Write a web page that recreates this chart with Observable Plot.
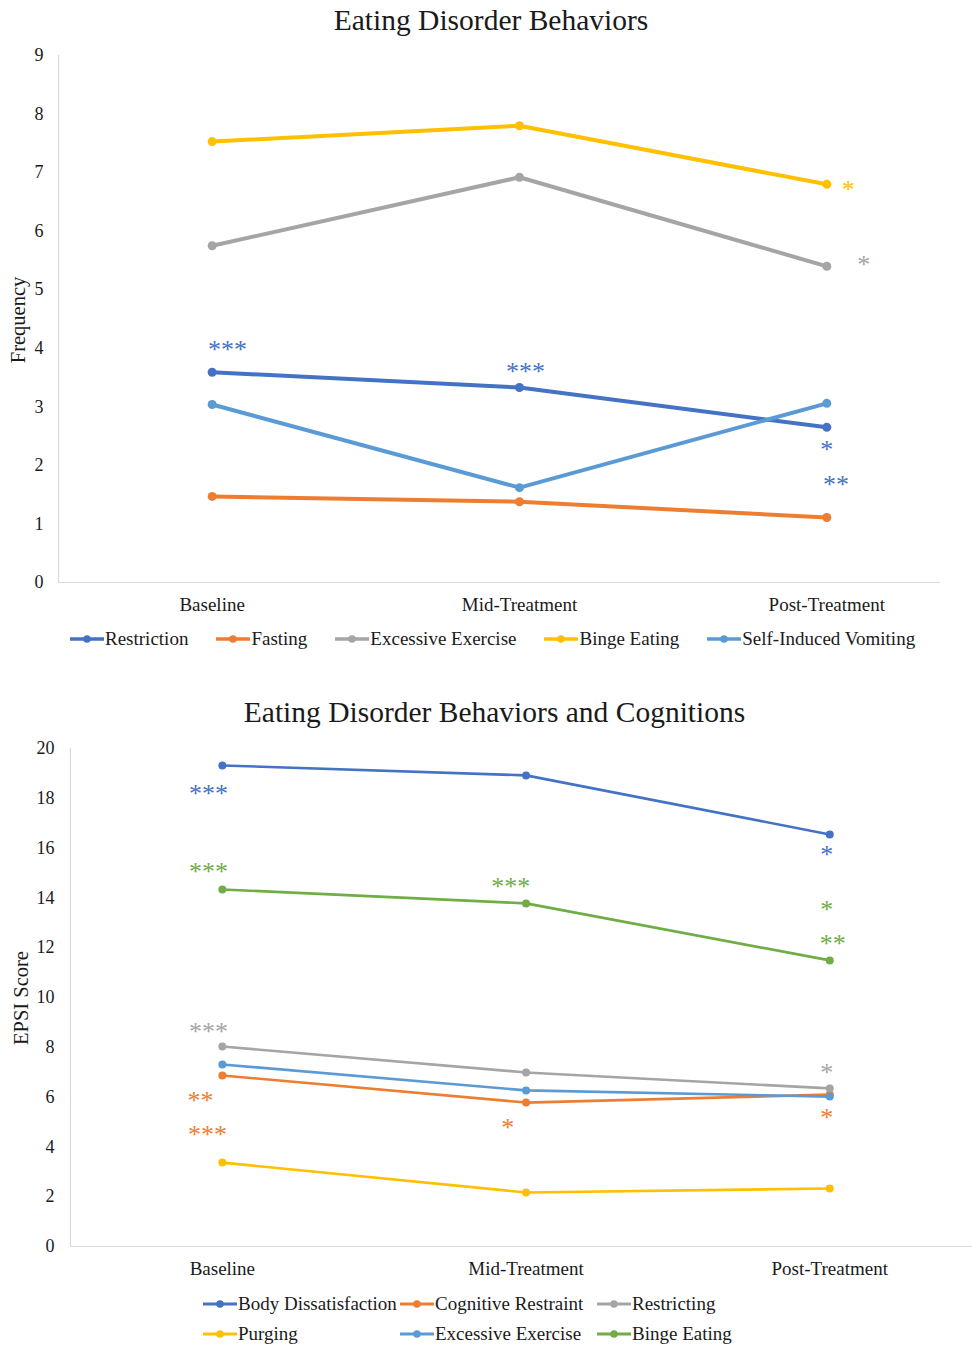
<!DOCTYPE html>
<html><head><meta charset="utf-8">
<script src="https://cdn.jsdelivr.net/npm/d3@7"></script>
<script src="https://cdn.jsdelivr.net/npm/@observablehq/plot@0.6"></script>
<style>
body{margin:0;background:#fff;font-family:"Liberation Serif","Times New Roman",serif;color:#1a1a1a;}
#page{position:relative;width:972px;height:1346px;overflow:hidden;}
.title{position:absolute;text-align:center;font-size:29.5px;line-height:40px;white-space:nowrap;}
.chart{position:absolute;left:0;}
.ylab{position:absolute;width:200px;height:24px;line-height:24px;text-align:center;font-size:20.5px;transform:translate(-50%,-50%) rotate(-90deg);white-space:nowrap;}
.legend{position:absolute;font-size:19px;line-height:20px;}
.row{display:flex;align-items:center;}
.item{display:flex;align-items:center;white-space:nowrap;}
.item svg{margin-right:1px;display:block;}
</style></head>
<body><div id="page">
<div class="title" style="left:0;width:982px;top:0;">Eating Disorder Behaviors</div>
<div class="chart" id="c1" style="top:40px;"></div>
<div class="ylab" style="left:18px;top:320px;">Frequency</div>
<div class="legend" id="l1" style="left:70px;top:629px;"></div>
<div class="title" style="left:0;width:989px;top:692px;">Eating Disorder Behaviors and Cognitions</div>
<div class="chart" id="c2" style="top:730px;"></div>
<div class="ylab" style="left:21px;top:998px;">EPSI Score</div>
<div class="legend" id="l2" style="left:203px;top:1294px;"></div>
</div>
<script>
// ---------- shared ----------
const stages = ["Baseline", "Mid-Treatment", "Post-Treatment"];

// ---------- chart 1: Eating Disorder Behaviors (Frequency) ----------
const series1 = ["Restriction", "Fasting", "Excessive Exercise", "Binge Eating", "Self-Induced Vomiting"];
const colors1 = ["#4472C4", "#ED7D31", "#A5A5A5", "#FFC000", "#5B9BD5"];
const restriction1 = [3.59, 3.33, 2.65];
const fasting1 = [1.47, 1.38, 1.11];
const exercise1 = [5.75, 6.92, 5.40];
const binge1 = [7.53, 7.80, 6.80];
const vomiting1 = [3.04, 1.62, 3.06];
const values1 = [restriction1, fasting1, exercise1, binge1, vomiting1];
const yTicks1 = [0, 1, 2, 3, 4, 5, 6, 7, 8, 9];
// significance markers: series, position along stage axis, value
const sigSeries1 = ["Restriction", "Restriction", "Binge Eating", "Excessive Exercise", "Restriction", "Restriction"];
const sigPos1 = [0.05, 1.02, 2.07, 2.12, 2.0, 2.03];
const sigVal1 = [4.05, 3.67, 6.78, 5.50, 2.34, 1.74];
const sigText1 = ["***", "***", "*", "*", "*", "**"];

// ---------- chart 2: EPSI Score ----------
const series2 = ["Body Dissatisfaction", "Cognitive Restraint", "Restricting", "Purging", "Excessive Exercise", "Binge Eating"];
const colors2 = ["#4472C4", "#ED7D31", "#A5A5A5", "#FFC000", "#5B9BD5", "#70AD47"];
const bodyDis2 = [19.32, 18.92, 16.55];
const cogRes2 = [6.87, 5.78, 6.10];
const restricting2 = [8.03, 6.99, 6.35];
const purging2 = [3.37, 2.17, 2.33];
const exercise2 = [7.31, 6.27, 6.02];
const binge2 = [14.34, 13.78, 11.49];
const values2 = [bodyDis2, cogRes2, restricting2, purging2, exercise2, binge2];
const yTicks2 = [0, 2, 4, 6, 8, 10, 12, 14, 16, 18, 20];
const sigSeries2 = ["Body Dissatisfaction", "Binge Eating", "Binge Eating", "Body Dissatisfaction", "Binge Eating", "Binge Eating",
  "Restricting", "Cognitive Restraint", "Cognitive Restraint", "Cognitive Restraint", "Restricting", "Cognitive Restraint"];
const sigPos2 = [-0.046, -0.046, 0.95, 1.99, 1.99, 2.01, -0.046, -0.072, -0.049, 0.94, 1.99, 1.99];
const sigVal2 = [18.35, 15.22, 14.62, 15.90, 13.69, 12.33, 8.80, 6.02, 4.66, 4.94, 7.15, 5.34];
const sigText2 = ["***", "***", "***", "*", "*", "**", "***", "**", "***", "*", "*", "*"];

function rowsOf(series, values) {
  const out = [];
  series.forEach((s, k) => values[k].forEach((v, i) => out.push({series: s, stage: stages[i], i, value: v})));
  return out;
}
function sigRows(ser, pos, val, txt) {
  return ser.map((s, k) => ({series: s, pos: pos[k], val: val[k], text: txt[k]}));
}

function makeChart(opts) {
  const rows = rowsOf(opts.series, opts.values);
  const sig = sigRows(...opts.sig);
  return Plot.plot({
    width: 972,
    height: opts.height,
    marginTop: opts.mt, marginBottom: opts.mb, marginLeft: opts.ml, marginRight: opts.mr,
    style: {fontFamily: "Liberation Serif, Times New Roman, serif", fontSize: "19px", color: "#1a1a1a", background: "#fff"},
    x: {domain: opts.xDomain},
    y: {domain: opts.yDomain},
    color: {domain: opts.series, range: opts.colors},
    marks: [
      Plot.ruleY([0], {stroke: "#d9d9d9", strokeWidth: 1.2}),
      Plot.ruleX([opts.xDomain[0]], {stroke: "#d9d9d9", strokeWidth: 1.2}),
      Plot.axisX({ticks: [0, 1, 2], tickFormat: i => stages[i], tickSize: 0, tickPadding: 15, label: null, fontSize: 19}),
      Plot.axisY({ticks: opts.yTicks, tickSize: 0, tickPadding: opts.ytp, label: null, fontSize: 18}),
      Plot.line(rows, {x: "i", y: "value", z: "series", stroke: "series", strokeWidth: opts.sw}),
      Plot.dot(rows, {x: "i", y: "value", fill: "series", r: opts.r}),
      Plot.text(sig, {x: "pos", y: "val", text: "text", fill: "series", fontSize: 26, dy: 4})
    ]
  });
}

document.getElementById("c1").appendChild(makeChart({
  series: series1, colors: colors1, values: values1, yTicks: yTicks1,
  sig: [sigSeries1, sigPos1, sigVal1, sigText1],
  height: 580, mt: 15, mb: 38, ml: 58, mr: 32,
  xDomain: [-0.5, 2.37], yDomain: [0, 9], ytp: 15, sw: 4, r: 4.5
}));
document.getElementById("c2").appendChild(makeChart({
  series: series2, colors: colors2, values: values2, yTicks: yTicks2,
  sig: [sigSeries2, sigPos2, sigVal2, sigText2],
  height: 554, mt: 18, mb: 38, ml: 70, mr: 0,
  xDomain: [-0.5, 2.47], yDomain: [0, 20], ytp: 16, sw: 2.6, r: 4
}));

function swatch(color, sw) {
  const ns = "http://www.w3.org/2000/svg";
  const svg = document.createElementNS(ns, "svg");
  svg.setAttribute("width", 34); svg.setAttribute("height", 12);
  svg.innerHTML = `<line x1="0" x2="34" y1="6" y2="6" stroke="${color}" stroke-width="${sw}"/><circle cx="17" cy="6" r="3.8" fill="${color}"/>`;
  return svg;
}
function item(name, color, sw) {
  const d = document.createElement("div");
  d.className = "item";
  d.appendChild(swatch(color, sw));
  const t = document.createElement("span"); t.textContent = name; d.appendChild(t);
  return d;
}
// legend 1: single row
{
  const row = document.createElement("div"); row.className = "row"; row.style.gap = "28px";
  series1.forEach((s, k) => row.appendChild(item(s, colors1[k], 3.5)));
  document.getElementById("l1").appendChild(row);
}
// legend 2: 3-column grid, 2 rows
{
  const g = document.createElement("div");
  g.style.display = "grid"; g.style.gridTemplateColumns = "197px 197px auto"; g.style.rowGap = "10px";
  series2.forEach((s, k) => g.appendChild(item(s, colors2[k], 3)));
  document.getElementById("l2").appendChild(g);
}
</script>
</body></html>
